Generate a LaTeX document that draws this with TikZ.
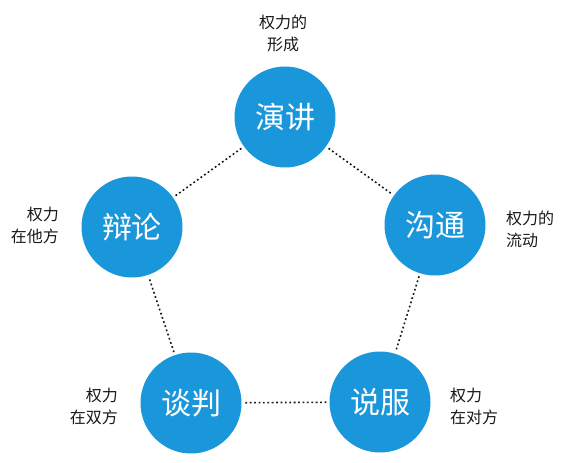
\documentclass[tikz,border=0pt]{standalone}
\usepackage{fontspec}
\setmainfont{Noto Sans CJK SC}
\definecolor{ballblue}{RGB}{26,150,219}
\definecolor{labgray}{RGB}{25,25,25}
\begin{document}
\begin{tikzpicture}[x=1pt,y=-1pt,
  ball/.style={circle,fill=ballblue,minimum size=101pt,inner sep=0pt,text=white,font=\fontsize{30}{32}\selectfont},
  lab/.style={text=labgray,font=\fontsize{16}{22}\selectfont,inner sep=0pt},
  link/.style={draw=black!90,line width=1.6pt,dash pattern=on 1.8pt off 2.6pt,shorten <=3pt,shorten >=3pt}]
\useasboundingbox[fill=white] (0,0) rectangle (566,463);
\node[ball] (yj) at (285,117) {演讲};
\node[ball] (gt) at (435,225) {沟通};
\node[ball] (sf) at (380,402) {说服};
\node[ball] (tp) at (191,403) {谈判};
\node[ball] (bl) at (132,227) {辩论};
\draw[link] (yj) -- (gt);
\draw[link] (gt) -- (sf);
\draw[link] (sf) -- (tp);
\draw[link] (tp) -- (bl);
\draw[link] (bl) -- (yj);
\node[lab,align=center] (l1) at (283,33) {权力的\\形成};
\node[lab,align=left,anchor=west] (l2) at (506,229) {权力的\\流动};
\node[lab,align=right,anchor=east] (l3) at (59,225) {权力\\在他方};
\node[lab,align=right,anchor=east] (l4) at (118,406) {权力\\在双方};
\node[lab,align=left,anchor=west] (l5) at (450,406) {权力\\在对方};
\end{tikzpicture}
\end{document}
